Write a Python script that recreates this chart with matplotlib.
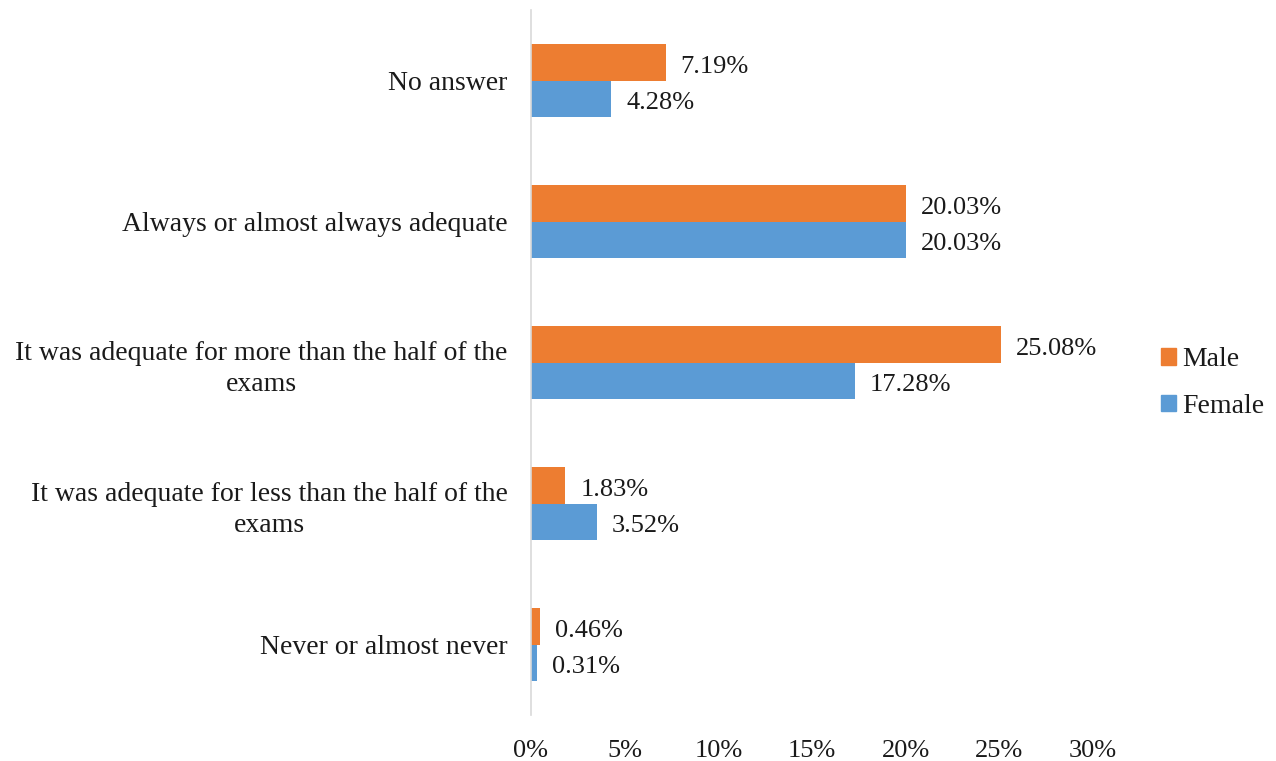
import matplotlib
matplotlib.use("Agg")
import matplotlib.pyplot as plt
import numpy as np
from matplotlib.patches import Patch

categories = ["Never or almost never",
              "It was adequate for less than the half of the\nexams",
              "It was adequate for more than the half of the\nexams",
              "Always or almost always adequate",
              "No answer"]
male = [0.46, 1.83, 25.08, 20.03, 7.19]
female = [0.31, 3.52, 17.28, 20.03, 4.28]
xticks = [0, 5, 10, 15, 20, 25, 30]

plt.rcParams['font.family'] = ['Liberation Serif', 'DejaVu Serif']
fs = 19
fs_cat = 20
orange = '#ED7D31'
blue = '#5B9BD5'
tc = '#1a1a1a'

fig = plt.figure(figsize=(12.76, 7.61), dpi=100)
ax = fig.add_axes([531/1276, 1-715/761, (1093-531)/1276, (715-10)/761])

y = np.arange(len(categories))
h = 0.258
ax.barh(y + h/2, male, height=h, color=orange, label='Male')
ax.barh(y - h/2, female, height=h, color=blue, label='Female')

dy = 0.015
for yi, m, f in zip(y, male, female):
    ax.text(m + 0.8, yi + h/2 - dy, f"{m:.2f}%", va='center_baseline', ha='left', fontsize=fs, color=tc)
    ax.text(f + 0.8, yi - h/2 - dy, f"{f:.2f}%", va='center_baseline', ha='left', fontsize=fs, color=tc)

ax.set_xlim(0, 30)
ax.set_ylim(-0.5, 4.5)
ax.set_yticks(y)
ax.set_yticklabels(categories, fontsize=fs_cat, ha='right', multialignment='center', color=tc)
for lab in ax.get_yticklabels():
    lab.set_linespacing(1.35)
ax.tick_params(axis='y', length=0, pad=17)
ax.set_xticks(xticks)
ax.set_xticklabels([f"{t}%" for t in xticks], fontsize=fs, color=tc)
ax.tick_params(axis='x', length=0, pad=18)
for s in ['top', 'right', 'bottom']:
    ax.spines[s].set_visible(False)
ax.spines['left'].set_color('#D9D9D9')
ax.spines['left'].set_linewidth(1.2)

handles = [Patch(color=orange, label='Male'), Patch(color=blue, label='Female')]
leg = fig.legend(handles=handles, loc='center left', bbox_to_anchor=(1136/1276, 1-383/761),
           frameon=False, fontsize=fs_cat, handlelength=0.55, handleheight=0.55,
           handletextpad=0.2, labelspacing=0.78)
for t in leg.get_texts():
    t.set_color(tc)

fig.savefig('out.png', dpi=100)
